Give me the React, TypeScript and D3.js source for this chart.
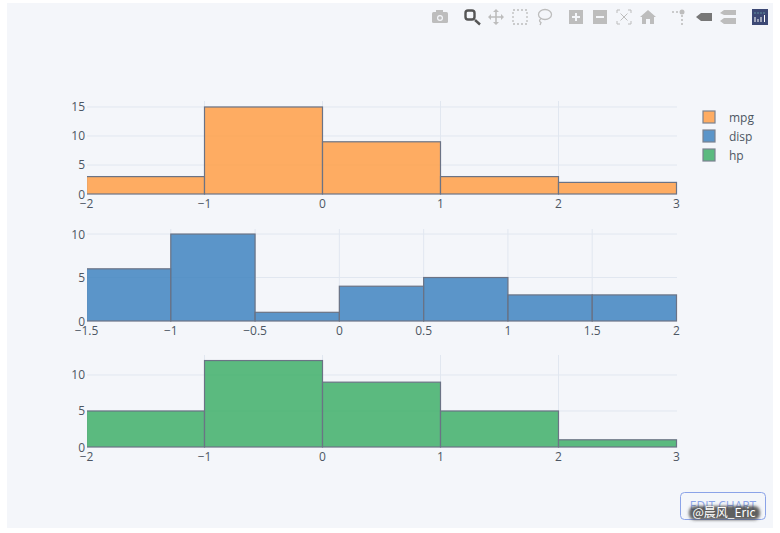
import React, { useEffect, useRef } from 'react';
import * as d3 from 'd3';

const mpgEdges = [-2, -1, 0, 1, 2, 3];
const mpgCounts = [3, 15, 9, 3, 2];
const dispEdges = [-1.5, -1, -0.5, 0, 0.5, 1, 1.5, 2];
const dispCounts = [6, 10, 1, 4, 5, 3, 3];
const hpEdges = [-2, -1, 0, 1, 2, 3];
const hpCounts = [5, 12, 9, 5, 1];
const mpgYTicks = [0, 5, 10, 15];
const dispYTicks = [0, 5, 10];
const hpYTicks = [0, 5, 10];
const seriesNames = ['mpg', 'disp', 'hp'];
const seriesColors = ['#FF9F47', '#3F84BF', '#40AF68'];

const panels = [
  { id: 'a', edges: mpgEdges, counts: mpgCounts, yTicks: mpgYTicks, color: seriesColors[0], top: 101, bottom: 194, yMax: 16.03 },
  { id: 'b', edges: dispEdges, counts: dispCounts, yTicks: dispYTicks, color: seriesColors[1], top: 229, bottom: 321, yMax: 10.58 },
  { id: 'c', edges: hpEdges, counts: hpCounts, yTicks: hpYTicks, color: seriesColors[2], top: 355, bottom: 447, yMax: 12.77 },
];

const fmt = (v: number) => String(v).replace('-', '\u2212');

const App: React.FC = () => {
  const ref = useRef<SVGSVGElement | null>(null);

  useEffect(() => {
    const svg = d3.select(ref.current);
    svg.selectAll('*').remove();
    svg.attr('font-family', '"Open Sans", sans-serif');

    const defs = svg.append('defs');
    defs.append('filter').attr('id', 'soft').append('feGaussianBlur').attr('stdDeviation', 0.45);
    defs.append('filter').attr('id', 'halo').attr('x', '-20%').attr('y', '-40%').attr('width', '140%').attr('height', '180%')
      .append('feGaussianBlur').attr('stdDeviation', 1.4);

    // fondo
    svg.append('rect').attr('width', 780).attr('height', 533).attr('fill', '#ffffff');
    svg.append('rect').attr('x', 7).attr('y', 3).attr('width', 766).attr('height', 525).attr('fill', '#F4F6FA');

    panels.forEach((p) => {
      const x = d3.scaleLinear().domain([p.edges[0], p.edges[p.edges.length - 1]]).range([86.5, 676.5]);
      const y = d3.scaleLinear().domain([0, p.yMax]).range([p.bottom, p.top]);
      const g = svg.append('g');

      defs.append('clipPath').attr('id', `clip-${p.id}`).append('rect')
        .attr('x', 87).attr('y', p.top - 2).attr('width', 592).attr('height', p.bottom - p.top + 4);

      // rejilla
      g.selectAll('line.gx').data(p.edges.slice(1, -1)).enter().append('line')
        .attr('x1', (d) => x(d)).attr('x2', (d) => x(d))
        .attr('y1', p.top).attr('y2', p.bottom)
        .attr('stroke', '#E1E7F0').attr('stroke-width', 1);
      g.selectAll('line.gy').data(p.yTicks.slice(1)).enter().append('line')
        .attr('x1', 87).attr('x2', 677)
        .attr('y1', (d) => y(d)).attr('y2', (d) => y(d))
        .attr('stroke', '#E1E7F0').attr('stroke-width', 1);

      // barras
      const bars = g.append('g').attr('clip-path', `url(#clip-${p.id})`);
      bars.selectAll('rect').data(p.counts).enter().append('rect')
        .attr('x', (_, i) => x(p.edges[i]))
        .attr('width', (_, i) => x(p.edges[i + 1]) - x(p.edges[i]))
        .attr('y', (d) => y(d))
        .attr('height', (d) => p.bottom - y(d))
        .attr('fill', p.color).attr('fill-opacity', 0.85)
        .attr('stroke', '#6B7385').attr('stroke-width', 1.2);

      // ejes
      g.selectAll('text.xt').data(p.edges).enter().append('text')
        .attr('x', (d) => x(d)).attr('y', p.bottom + 14)
        .attr('text-anchor', 'middle').attr('font-size', 12).attr('fill', '#4D5663')
        .text((d) => fmt(d));
      g.selectAll('text.yt').data(p.yTicks).enter().append('text')
        .attr('x', 85).attr('y', (d) => y(d) + 4.5)
        .attr('text-anchor', 'end').attr('font-size', 12).attr('fill', '#4D5663')
        .text((d) => fmt(d));
    });

    // leyenda
    const legend = svg.append('g');
    const ly = d3.scalePoint().domain(seriesNames).range([117, 155]);
    seriesNames.forEach((name, i) => {
      const cy = ly(name) as number;
      legend.append('rect').attr('x', 703).attr('y', cy - 6).attr('width', 12).attr('height', 12)
        .attr('fill', seriesColors[i]).attr('fill-opacity', 0.85)
        .attr('stroke', '#7B8290').attr('stroke-width', 1.2);
      legend.append('text').attr('x', 729).attr('y', cy + 4.5)
        .attr('font-size', 12).attr('fill', '#4D5663').text(name);
    });

    // barra de herramientas
    const tb = svg.append('g').attr('fill', '#BDBDBD').attr('filter', 'url(#soft)');
    const line = (d: string, w = 1.3, dash?: string) =>
      tb.append('path').attr('d', d).attr('fill', 'none').attr('stroke', '#BDBDBD').attr('stroke-width', w).attr('stroke-dasharray', dash ?? null);

    tb.append('rect').attr('x', 432).attr('y', 12).attr('width', 16).attr('height', 11).attr('rx', 1.5);
    tb.append('rect').attr('x', 436).attr('y', 10).attr('width', 7).attr('height', 3);
    tb.append('circle').attr('cx', 440).attr('cy', 18).attr('r', 3).attr('fill', '#F4F6FA');
    tb.append('circle').attr('cx', 440).attr('cy', 18).attr('r', 1.8);

    tb.append('rect').attr('x', 465.5).attr('y', 10.5).attr('width', 9).attr('height', 9).attr('rx', 2.5)
      .attr('fill', 'none').attr('stroke', '#555').attr('stroke-width', 2.4);
    tb.append('line').attr('x1', 475).attr('y1', 20).attr('x2', 480).attr('y2', 24.5).attr('stroke', '#555').attr('stroke-width', 2.4);

    line('M496 11V23M490 17H502', 1.6);
    tb.append('path').attr('d', 'M496 9L499 12H493ZM496 25L499 22H493ZM488 17L491 14V20ZM504 17L501 14V20Z');

    tb.append('rect').attr('x', 513).attr('y', 10).attr('width', 14).attr('height', 14)
      .attr('fill', 'none').attr('stroke', '#BDBDBD').attr('stroke-width', 1.3).attr('stroke-dasharray', '2 2');

    tb.append('ellipse').attr('cx', 545).attr('cy', 14.5).attr('rx', 6.5).attr('ry', 5)
      .attr('fill', 'none').attr('stroke', '#BDBDBD').attr('stroke-width', 1.3);
    line('M541 18.5Q538 21 541 22.5L540 25');

    tb.append('rect').attr('x', 569).attr('y', 10).attr('width', 14).attr('height', 14);
    tb.append('path').attr('d', 'M576 13V21M572 17H580').attr('stroke', '#F4F6FA').attr('stroke-width', 2);
    tb.append('rect').attr('x', 593).attr('y', 10).attr('width', 14).attr('height', 14);
    tb.append('path').attr('d', 'M596 17H604').attr('stroke', '#F4F6FA').attr('stroke-width', 2);

    line('M617 13V10H620M628 10H631V13M631 21V24H628M620 24H617V21M620.5 13.5L627.5 20.5M627.5 13.5L620.5 20.5', 1);
    tb.append('path').attr('d', 'M648 10L656 17H654V24H650V19H646V24H642V17H640Z');

    line('M672 12H679', 1.6, '2 2');
    line('M682 15V25', 1.6, '2 2');
    tb.append('circle').attr('cx', 682).attr('cy', 12).attr('r', 2.5);
    tb.append('path').attr('d', 'M696 17L701 13H712V21H701Z').attr('fill', '#777');
    tb.append('path').attr('d', 'M720 13L724 10H736V15H724ZM720 21L724 18H736V24H724Z');

    tb.append('rect').attr('x', 752).attr('y', 9).attr('width', 16).attr('height', 16).attr('fill', '#3D4A75');
    const logo = svg.append('g').attr('filter', 'url(#soft)');
    logo.append('path').attr('d', 'M755 22V17M758 22V19M761 22V17M764.5 22V15').attr('stroke', '#fff').attr('stroke-width', 1);
    logo.append('path').attr('d', 'M754.5 13H766').attr('stroke', '#7FD8C8').attr('stroke-width', 1).attr('stroke-dasharray', '1 2');

    // boton de editar y marca de agua
    svg.append('rect').attr('x', 680.5).attr('y', 492.5).attr('width', 85).attr('height', 27).attr('rx', 4)
      .attr('fill', 'none').attr('stroke', '#8BA3E8');
    svg.append('text').attr('x', 723).attr('y', 510).attr('text-anchor', 'middle')
      .attr('font-size', 12).attr('fill', '#8BA3E8').text('EDIT CHART');
    svg.append('rect').attr('x', 689).attr('y', 506).attr('width', 71).attr('height', 14).attr('rx', 6)
      .attr('fill', '#444').attr('fill-opacity', 0.85).attr('filter', 'url(#halo)');
    svg.append('text').attr('x', 724).attr('y', 517).attr('text-anchor', 'middle')
      .attr('font-size', 12).attr('font-family', '"Noto Sans CJK SC", sans-serif').attr('fill', '#ffffff').text('@晨风_Eric');
  }, []);

  return <svg ref={ref} width={780} height={533} style={{ position: 'absolute', left: 0, top: 0 }} />;
};

export default App;
